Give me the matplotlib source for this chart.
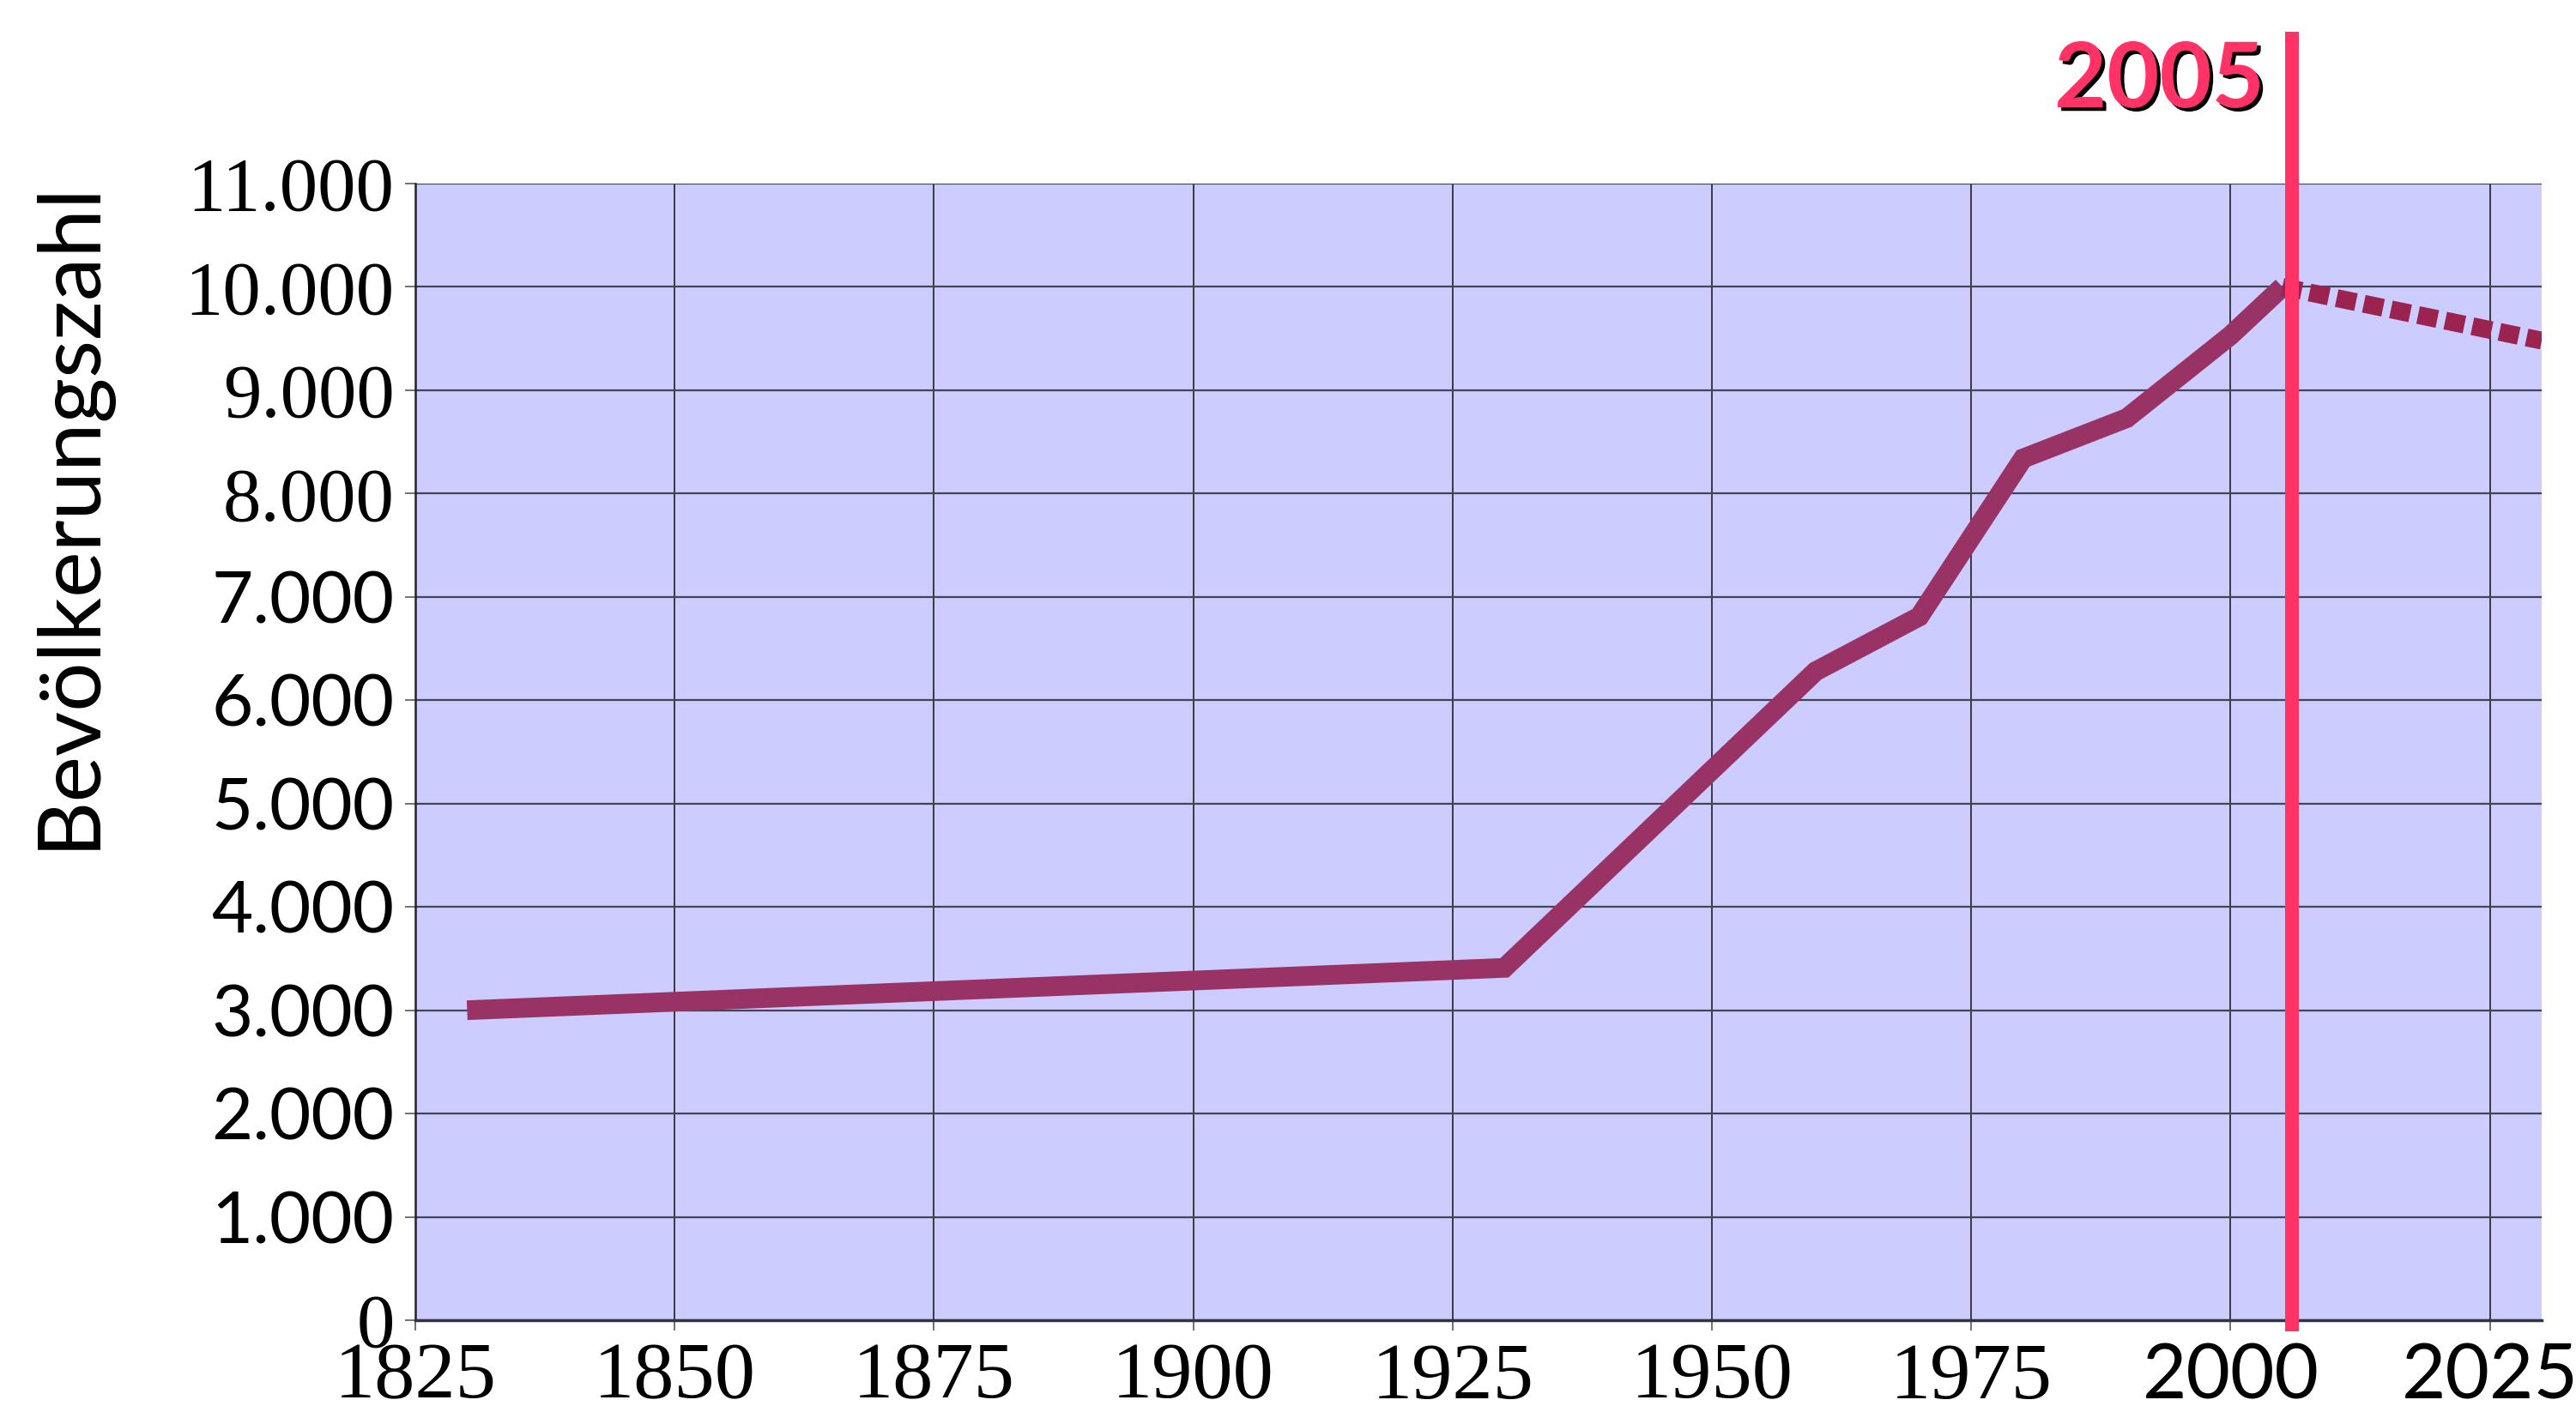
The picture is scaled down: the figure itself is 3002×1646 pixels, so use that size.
"""
Bevölkerungsentwicklung 1830-2030 mit Markierung des Jahres 2005.
"""

import matplotlib.pyplot as plt
import matplotlib.patheffects as pe
from matplotlib.transforms import blended_transform_factory

# observed population
years = [1830, 1930, 1960, 1970, 1980, 1990, 2000, 2005]
population = [3000, 3410, 6280, 6810, 8340, 8730, 9530, 10000]

# projection after 2005
proj_years = [2005, 2030]
proj_population = [10000, 9480]

x_ticks = [1825, 1850, 1875, 1900, 1925, 1950, 1975, 2000, 2025]
y_ticks = list(range(0, 12000, 1000))
y_ticklabels = ["{:,}".format(v).replace(",", ".") for v in y_ticks]

marker_year = 2005
marker_label = "2005"

SERIF = "Liberation Serif"
SANS = "Lato"

fig = plt.figure(figsize=(30.02, 16.46), dpi=100)
ax = fig.add_axes([0.1612, 0.065, 0.8255, 0.805])
ax.set_facecolor("#CCCCFF")

ax.plot(years, population, color="#993366", lw=16.5,
        solid_capstyle="butt", solid_joinstyle="miter", zorder=3)
ax.plot(proj_years, proj_population, color="#9A244F", lw=15,
        dashes=(1.1, 0.45), dash_capstyle="butt", zorder=3)

ax.set_xlim(1825, 2030)
ax.set_ylim(0, 11000)
ax.set_xticks(x_ticks)
ax.set_xticklabels([str(y) for y in x_ticks])
ax.set_yticks(y_ticks)
ax.set_yticklabels(y_ticklabels)

# grid
ax.grid(axis="y", color="#444455", lw=1.6, zorder=1)
ax.grid(axis="x", color="#111111", lw=1.1, zorder=1)
ax.set_axisbelow(True)

for side in ["top", "right"]:
    ax.spines[side].set_visible(False)
ax.spines["left"].set_color("#222222")
ax.spines["left"].set_linewidth(1.8)
ax.spines["bottom"].set_color("#333344")
ax.spines["bottom"].set_linewidth(2.5)

ax.tick_params(axis="both", direction="out", length=8.5, width=1.3,
               color="#666666")
ax.tick_params(axis="y", pad=9)
ax.tick_params(axis="x", pad=10)

# the tick labels use a mix of a condensed serif and a sans face
for lab, year in zip(ax.get_xticklabels(), x_ticks):
    if year < 2000:
        lab.set_fontfamily(SERIF)
        lab.set_fontsize(68)
    else:
        lab.set_fontfamily(SANS)
        lab.set_fontsize(64)
for lab, val in zip(ax.get_yticklabels(), y_ticks):
    if val == 0 or val >= 8000:
        lab.set_fontfamily(SERIF)
        lab.set_fontsize(64)
    else:
        lab.set_fontfamily(SANS)
        lab.set_fontsize(60)

fig.text(0.027, 0.636, "Bevölkerungszahl", rotation=90, ha="center",
         va="center", fontsize=73, family=SANS)

# vertical marker line, reaching above the plot area
trans = blended_transform_factory(ax.transData, fig.transFigure)
ax.plot([marker_year + 0.9, marker_year + 0.9], [0.0571, 0.9775],
        transform=trans, color="#FF3366", lw=11.5, clip_on=False,
        solid_capstyle="butt", zorder=5)

fig.text(0.879, 0.924, marker_label, ha="right", va="baseline",
         fontsize=76, fontweight="bold", family=SANS, color="#FF3366",
         path_effects=[pe.withSimplePatchShadow(offset=(3, -3),
                                                shadow_rgbFace="black",
                                                alpha=1.0)])

plt.savefig("out.png", dpi=100)
plt.close()
